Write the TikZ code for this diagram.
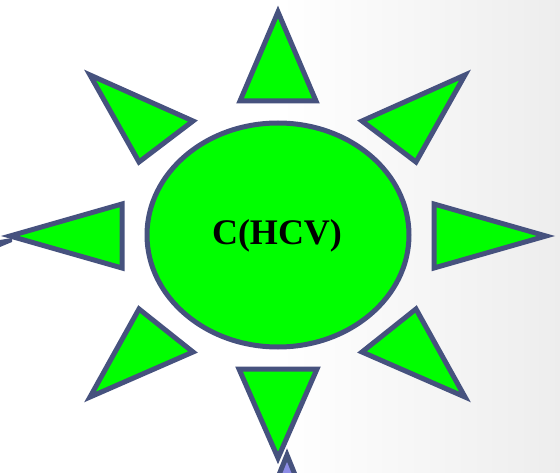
\documentclass[tikz,border=0pt]{standalone}
\usepackage{fontspec}
\setmainfont{Liberation Serif}
\usetikzlibrary{shapes.geometric}
\begin{document}
\begin{tikzpicture}[x=1pt,y=-1pt,
  ray/.style={draw=edgeblue,line width=5pt,fill=sungreen,line join=miter},
]
\definecolor{edgeblue}{RGB}{70,82,126}
\definecolor{sungreen}{RGB}{0,255,0}
\definecolor{lav}{RGB}{140,140,230}
\useasboundingbox (0,0) rectangle (560,473);
\shade[left color=white,right color=black!7,middle color=white] (0,0) rectangle (560,473);
\begin{scope}
\clip (0,0) rectangle (560,473);
% partial shapes at edges
\draw[ray,fill=lav] (287,455) -- (272,492) -- (302,492) -- cycle;
\fill[edgeblue] (0,240) -- (12,238) -- (12,242) -- (0,247) -- cycle;
% rays
\draw[ray] (278,12) -- (316,101) -- (240,101) -- cycle;
\draw[ray] (278,458) -- (239,369) -- (317,369) -- cycle;
\draw[ray] (10,236) -- (122,204) -- (122,268) -- cycle;
\draw[ray] (546,236) -- (434,204) -- (434,268) -- cycle;
\draw[ray] (90,75) -- (193,121) -- (139,162) -- cycle;
\draw[ray] (465,75) -- (362,121) -- (416,162) -- cycle;
\draw[ray] (90,397) -- (139,309) -- (193,352) -- cycle;
\draw[ray] (465,397) -- (416,309) -- (362,352) -- cycle;
\end{scope}
\node[ellipse,draw=edgeblue,line width=5pt,fill=sungreen,minimum width=262pt,minimum height=224pt,inner sep=0pt] (sun) at (278,235) {};
\node[font=\bfseries\fontsize{36}{40}\selectfont,text=black] (lbl) at (277,236) {C(HCV)};
\end{tikzpicture}
\end{document}
